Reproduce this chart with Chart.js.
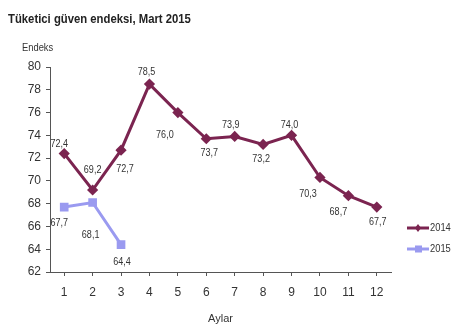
<!DOCTYPE html>
<html>
<head>
<meta charset="utf-8">
<script src="https://cdn.jsdelivr.net/npm/chart.js@4"></script>
<style>
  body { margin: 0; background: #fff; }
  #wrap { width: 470px; height: 326px; position: relative; }
</style>
</head>
<body>
<div id="wrap"><canvas id="chart" width="470" height="326"></canvas></div>
<script>
const months = ["1", "2", "3", "4", "5", "6", "7", "8", "9", "10", "11", "12"];
const values2014 = [72.4, 69.2, 72.7, 78.5, 76.0, 73.7, 73.9, 73.2, 74.0, 70.3, 68.7, 67.7];
const values2015 = [67.7, 68.1, 64.4];
const seriesNames = ["2014", "2015"];

// label offsets from each point, in pixels
const offsets2014 = [[-5, -10], [0, -20], [4, 19], [-3, -12], [-13, 22], [3, 14], [-4, -12], [-2, 15], [-2, -10], [-12, 16], [-10, 16], [1, 15]];
const offsets2015 = [[-5, 16], [-2, 32], [1, 17]];

const FONT = "'Liberation Sans Narrow', 'Arial Narrow', 'Liberation Sans', Arial, sans-serif";
const COL2014 = "#7b2450";
const COL2015 = "#9a9af0";

// text squeezed sideways, a stand-in for a narrow face
function narrowText(ctx, text, x, y, sx) {
    ctx.save();
    ctx.translate(x, y);
    ctx.scale(sx, 1);
    ctx.fillText(text, 0, 0);
    ctx.restore();
}

const extras = {
    id: "extras",
    afterDatasetsDraw(chart) {
        const ctx = chart.ctx;
        ctx.save();
        // value labels
        ctx.font = "11px " + FONT;
        ctx.fillStyle = "#333";
        ctx.textAlign = "center";
        ctx.textBaseline = "middle";
        const offs = [offsets2014, offsets2015];
        chart.data.datasets.forEach((ds, i) => {
            chart.getDatasetMeta(i).data.forEach((pt, j) => {
                const o = offs[i][j];
                narrowText(ctx, ds.data[j].toFixed(1).replace(".", ","), pt.x + o[0], pt.y + o[1], 0.82);
            });
        });
        // title and axis name
        ctx.textAlign = "left";
        ctx.fillStyle = "#222";
        ctx.font = "bold 13px " + FONT;
        narrowText(ctx, "Tüketici güven endeksi, Mart 2015", 8, 19, 0.87);
        ctx.font = "11px " + FONT;
        ctx.fillStyle = "#333";
        narrowText(ctx, "Endeks", 22, 48, 0.85);
        // legend
        chart.data.datasets.forEach((ds, i) => {
            const y = 228 + i * 21;
            ctx.strokeStyle = ds.borderColor;
            ctx.lineWidth = 3;
            ctx.beginPath();
            ctx.moveTo(407, y);
            ctx.lineTo(429, y);
            ctx.stroke();
            ctx.fillStyle = ds.borderColor;
            if (i === 0) {
                ctx.beginPath();
                ctx.moveTo(418, y - 4); ctx.lineTo(421, y); ctx.lineTo(418, y + 4); ctx.lineTo(415, y);
                ctx.closePath();
                ctx.fill();
            } else {
                ctx.fillRect(415, y - 3.5, 7, 7);
            }
            ctx.fillStyle = "#333";
            narrowText(ctx, ds.label, 430, y, 0.85);
        });
        ctx.restore();
    }
};

new Chart(document.getElementById("chart"), {
    type: "line",
    data: {
        labels: months,
        datasets: [
            {
                label: seriesNames[0],
                data: values2014,
                borderColor: COL2014,
                backgroundColor: COL2014,
                borderWidth: 3,
                pointStyle: "rectRot",
                pointRadius: 3.5,
                tension: 0,
            },
            {
                label: seriesNames[1],
                data: values2015,
                borderColor: COL2015,
                backgroundColor: COL2015,
                borderWidth: 3,
                pointStyle: "rect",
                pointRadius: 4,
                tension: 0,
            },
        ],
    },
    options: {
        responsive: false,
        animation: false,
        layout: { padding: { left: 0, top: 67, right: 79, bottom: 0 } },
        plugins: {
            legend: { display: false },
            tooltip: { enabled: false },
        },
        scales: {
            x: {
                offset: true,
                afterFit: (s) => { s.height = 54; },
                grid: { drawOnChartArea: false, offset: false, tickLength: 4, color: "#555" },
                border: { color: "#555", width: 1 },
                ticks: { color: "#333", font: { family: FONT, size: 12 }, padding: 9, maxRotation: 0 },
                title: { display: true, text: "Aylar", color: "#333", font: { family: FONT, size: 11 }, padding: 0 },
            },
            y: {
                min: 62,
                max: 80,
                afterFit: (s) => { s.width = 50; },
                grid: { drawOnChartArea: false, tickLength: 4, color: "#555" },
                border: { color: "#555", width: 1 },
                ticks: { stepSize: 2, color: "#333", font: { family: FONT, size: 12 }, padding: 5 },
            },
        },
    },
    plugins: [extras],
});
</script>
</body>
</html>
